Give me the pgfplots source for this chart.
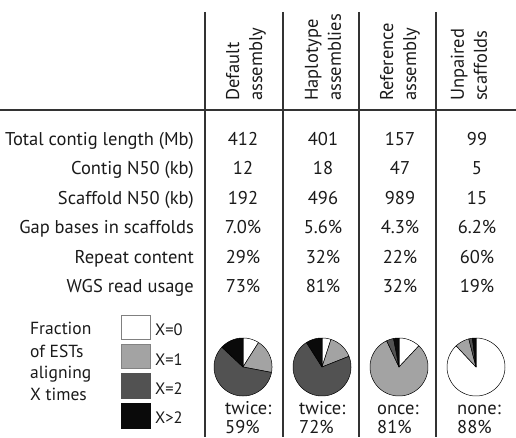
\documentclass[border=0pt]{standalone}
\usepackage{pgfplots}
\pgfplotsset{compat=1.18}
\usepackage{fontspec}
\setmainfont{PT Sans}
\definecolor{lg}{HTML}{A3A3A3}
\definecolor{dg}{HTML}{525252}
\definecolor{bk}{HTML}{0A0A0A}
\definecolor{txt}{HTML}{1A1A1A}
\definecolor{rule}{HTML}{333333}
% wedge: cx, cy, start%, end%, colour
\newcommand{\pwedge}[5]{%
  \addplot[fill=#5, draw=black, line width=0.5pt, line join=round,
    domain={3.6*(#3)}:{3.6*(#4)}, samples=60]
    ({#1+29*sin(x)},{#2+29*cos(x)}) -- (axis cs:#1,#2) -- cycle;}
% pie: cx, cy, X=0, X=1, X=2, X>2 (percent)
\newcommand{\pie}[6]{%
  \pwedge{#1}{#2}{0}{#3}{white}
  \pwedge{#1}{#2}{#3}{#3+#4}{lg}
  \pwedge{#1}{#2}{#3+#4}{#3+#4+#5}{dg}
  \pwedge{#1}{#2}{#3+#4+#5}{#3+#4+#5+#6}{bk}}
\begin{document}
\begin{tikzpicture}[x=1pt,y=1pt,
  every node/.style={font=\fontsize{18.5}{23}\selectfont, inner sep=0pt, text=txt}]
\useasboundingbox (0,0) rectangle (516,437);
% rules
\draw[rule, line width=1.4pt] (0,327) -- (516,327);
\foreach \xx in {205,283,359,436} \draw[rule, line width=1.4pt] (\xx,425) -- (\xx,0);
% headers
\node[rotate=90, anchor=west, align=left] at (246,336) {Default\\assembly};
\node[rotate=90, anchor=west, align=left] at (323,336) {Haplotype\\assemblies};
\node[rotate=90, anchor=west, align=left] at (400,336) {Reference\\assembly};
\node[rotate=90, anchor=west, align=left] at (469,336) {Unpaired\\scaffolds};
% rows
\foreach \lab/\yy/\a/\b/\c/\d in {
  Total contig length (Mb)/291/412/401/157/99,
  Contig N50 (kb)/262/12/18/47/5,
  Scaffold N50 (kb)/233/192/496/989/15,
  Gap bases in scaffolds/204/7.0\%/5.6\%/4.3\%/6.2\%,
  Repeat content/174/29\%/32\%/22\%/60\%,
  WGS read usage/145/73\%/81\%/32\%/19\%}{
  \node[anchor=base east] at (194,\yy) {\lab};
  \node[anchor=base] at (243,\yy) {\a};
  \node[anchor=base] at (323,\yy) {\b};
  \node[anchor=base] at (400,\yy) {\c};
  \node[anchor=base] at (477,\yy) {\d};
}
% legend
\begin{scope}[every node/.style={font=\fontsize{17.5}{22}\selectfont, inner sep=0pt, text=txt}]
\node[anchor=base west] at (30,103) {Fraction};
\node[anchor=base west] at (30,80) {of ESTs};
\node[anchor=base west] at (30,59) {aligning};
\node[anchor=base west] at (30,37) {X times};
\end{scope}
\draw[gray, fill=white, line width=0.6pt] (121,98) rectangle (150,122);
\draw[lg!80!black, fill=lg, line width=0.6pt] (121,69) rectangle (150,93);
\draw[dg, fill=dg, line width=0.6pt] (121,39) rectangle (150,64);
\draw[bk, fill=bk, line width=0.6pt] (121,9) rectangle (150,34);
\begin{scope}[every node/.style={font=\fontsize{16.5}{20}\selectfont, inner sep=0pt, text=txt}]
\node[anchor=west] at (155,107) {X=0};
\node[anchor=west] at (155,77) {X=1};
\node[anchor=west] at (155,48) {X=2};
\node[anchor=west] at (155,19) {X>2};
\end{scope}
% captions under pies
\node[anchor=base west] at (225,23) {twice:};
\node[anchor=base west] at (225,4) {59\%};
\node[anchor=base west] at (299,23) {twice:};
\node[anchor=base west] at (299,4) {72\%};
\node[anchor=base west] at (377,23) {once:};
\node[anchor=base west] at (377,4) {81\%};
\node[anchor=base west] at (457,23) {none:};
\node[anchor=base west] at (457,4) {88\%};
% pies
\begin{axis}[at={(0,0)}, anchor=south west, scale only axis,
  width=516pt, height=437pt, xmin=0, xmax=516, ymin=0, ymax=437,
  hide axis, clip=false]
\pie{243}{70}{9}{19}{59}{13}
\pie{322}{70}{5}{14}{72}{9}
\pie{399}{70}{12}{81}{4}{3}
\pie{476}{70}{88}{8}{2}{2}
\end{axis}
\end{tikzpicture}
\end{document}
